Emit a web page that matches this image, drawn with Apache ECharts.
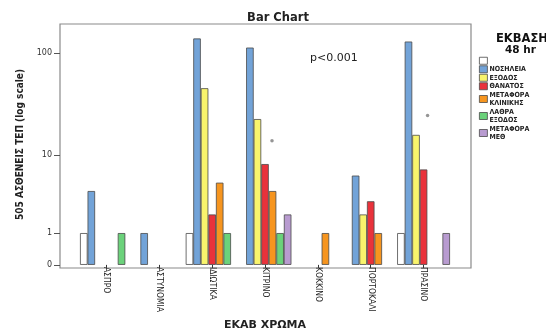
<!DOCTYPE html>
<html>
<head>
<meta charset="utf-8">
<script src="https://cdn.jsdelivr.net/npm/echarts@6/dist/echarts.min.js"></script>
<style>
  html, body { margin: 0; padding: 0; background: #fff; }
  #chart { width: 546px; height: 336px; }
</style>
</head>
<body>
<div id="chart"></div>
<script>
// Ambulance colour code (ΕΚΑΒ ΧΡΩΜΑ) categories
const categories = ['ΑΣΠΡΟ', 'ΑΣΤΥΝΟΜΙΑ', 'ΙΔΙΩΤΙΚΑ', 'ΚΙΤΡΙΝΟ', 'ΚΟΚΚΙΝΟ', 'ΠΟΡΤΟΚΑΛΙ', 'ΠΡΑΣΙΝΟ'];

// Outcome at 48 hours, patient counts per category
const unlabeled   = [1, 0, 1,   0,   0, 0, 1];
const nosileia    = [4, 1, 138, 113, 0, 6, 129];
const exodos      = [0, 0, 46,  23,  0, 2, 16];
const thanatos    = [0, 0, 2,   8,   0, 3, 7];
const metKlinikis = [0, 0, 5,   4,   1, 1, 0];
const lathra      = [1, 0, 1,   1,   0, 0, 0];
const metMeth     = [0, 0, 0,   2,   0, 0, 1];

const seriesNames = [' ', 'ΝΟΣΗΛΕΙΑ', 'ΕΞΟΔΟΣ', 'ΘΑΝΑΤΟΣ', 'ΜΕΤΑΦΟΡΑ\nΚΛΙΝΙΚΗΣ', 'ΛΑΘΡΑ\nΕΞΟΔΟΣ', 'ΜΕΤΑΦΟΡΑ\nΜΕΘ'];
const seriesValues = [unlabeled, nosileia, exodos, thanatos, metKlinikis, lathra, metMeth];
const seriesColors = ['#ffffff', '#72a3d8', '#f9f46c', '#e9323b', '#f6951f', '#6bd27b', '#b89bd0'];

// Significance markers (category index, level)
const markerCats   = [3, 6];
const markerLevels = [14, 25];
const markerShift  = [7, 4];

// Tick values on the log(n+1) axis
const tickCounts = [0, 1, 10, 100];

const toAxis = v => Math.log10(v + 1);

const chart = echarts.init(document.getElementById('chart'));

const barSeries = seriesNames.map((name, i) => ({
  name: name,
  type: 'bar',
  xAxisIndex: 0,
  yAxisIndex: 0,
  barGap: '0%',
  barCategoryGap: '0%',
  itemStyle: { color: seriesColors[i], borderColor: '#4a4a4a', borderWidth: 0.8 },
  data: seriesValues[i].map(v => v > 0 ? toAxis(v) : '-'),
  animation: false
}));

const markerSeries = {
  name: 'markers',
  type: 'scatter',
  xAxisIndex: 0,
  yAxisIndex: 0,
  symbol: 'circle',
  symbolSize: 3.5,
  itemStyle: { color: '#7a7a7a' },
  data: markerCats.map((c, i) => ({ value: [c, toAxis(markerLevels[i])], symbolOffset: [markerShift[i], 0] })),
  animation: false,
  z: 5
};

chart.setOption({
  animation: false,
  title: [
    {
      text: 'Bar Chart',
      left: 273, top: 7, textAlign: 'center',
      textStyle: { fontSize: 11.5, fontWeight: 'bold', color: '#222', fontFamily: 'DejaVu Sans' }
    },
    {
      text: 'p<0.001',
      left: 305, top: 48,
      textStyle: { fontSize: 11, fontWeight: 'normal', color: '#222', fontFamily: 'DejaVu Sans' }
    },
    {
      text: 'ΕΚΒΑΣΗ',
      left: 491, top: 28,
      textStyle: { fontSize: 11.5, fontWeight: 'bold', color: '#111', fontFamily: 'DejaVu Sans' }
    },
    {
      text: '48 hr',
      left: 500, top: 40,
      textStyle: { fontSize: 10.5, fontWeight: 'bold', color: '#111', fontFamily: 'DejaVu Sans' }
    }
  ],
  legend: {
    data: seriesNames,
    orient: 'vertical',
    left: 479, top: 56.5,
    padding: 0,
    itemGap: 0,
    itemWidth: 8, itemHeight: 7,
    icon: 'rect',
    itemStyle: { borderColor: '#4a4a4a', borderWidth: 0.8 },
    textStyle: { fontSize: 7, lineHeight: 8.5, color: '#222', fontWeight: 'bold', fontFamily: 'DejaVu Sans Condensed', padding: [0, 0, 0, -3] }
  },
  grid: [
    { left: 80, right: 96, top: 24, bottom: 68 },
    { left: 60, right: 75, top: 24, bottom: 68, show: true, borderColor: '#8a8a8a', borderWidth: 1.2, backgroundColor: 'transparent' }
  ],
  xAxis: [
    {
      type: 'category', gridIndex: 0, data: categories,
      axisLine: { show: false },
      axisTick: { show: true, alignWithLabel: true, length: 3, lineStyle: { color: '#333' } },
      axisLabel: { rotate: -90, margin: 2, fontSize: 8.5, color: '#222', fontFamily: 'DejaVu Sans Condensed', interval: 0 },
      name: 'ΕΚΑΒ ΧΡΩΜΑ', nameLocation: 'middle', nameGap: 54,
      nameTextStyle: { fontSize: 11, fontWeight: 'bold', color: '#222', fontFamily: 'DejaVu Sans' }
    },
    { type: 'value', gridIndex: 1, show: false }
  ],
  yAxis: [
    {
      type: 'value', gridIndex: 0, min: 0, max: 2.28, offset: 20,
      splitLine: { show: false },
      axisLine: { show: false },
      axisTick: { show: true, length: 6, customValues: tickCounts.map(toAxis), lineStyle: { color: '#555' } },
      axisLabel: {
        customValues: tickCounts.map(toAxis), margin: 8, fontSize: 8, color: '#333', fontFamily: 'DejaVu Sans',
        formatter: v => String(Math.round(Math.pow(10, v) - 1))
      },
      name: '505 ΑΣΘΕΝΕΙΣ ΤΕΠ (log scale)', nameLocation: 'middle', nameGap: 35, nameRotate: 90,
      nameTextStyle: { fontSize: 10, fontWeight: 'bold', color: '#222', fontFamily: 'DejaVu Sans Condensed' }
    },
    { type: 'value', gridIndex: 1, show: false }
  ],
  series: barSeries.concat([markerSeries])
});
</script>
</body>
</html>
